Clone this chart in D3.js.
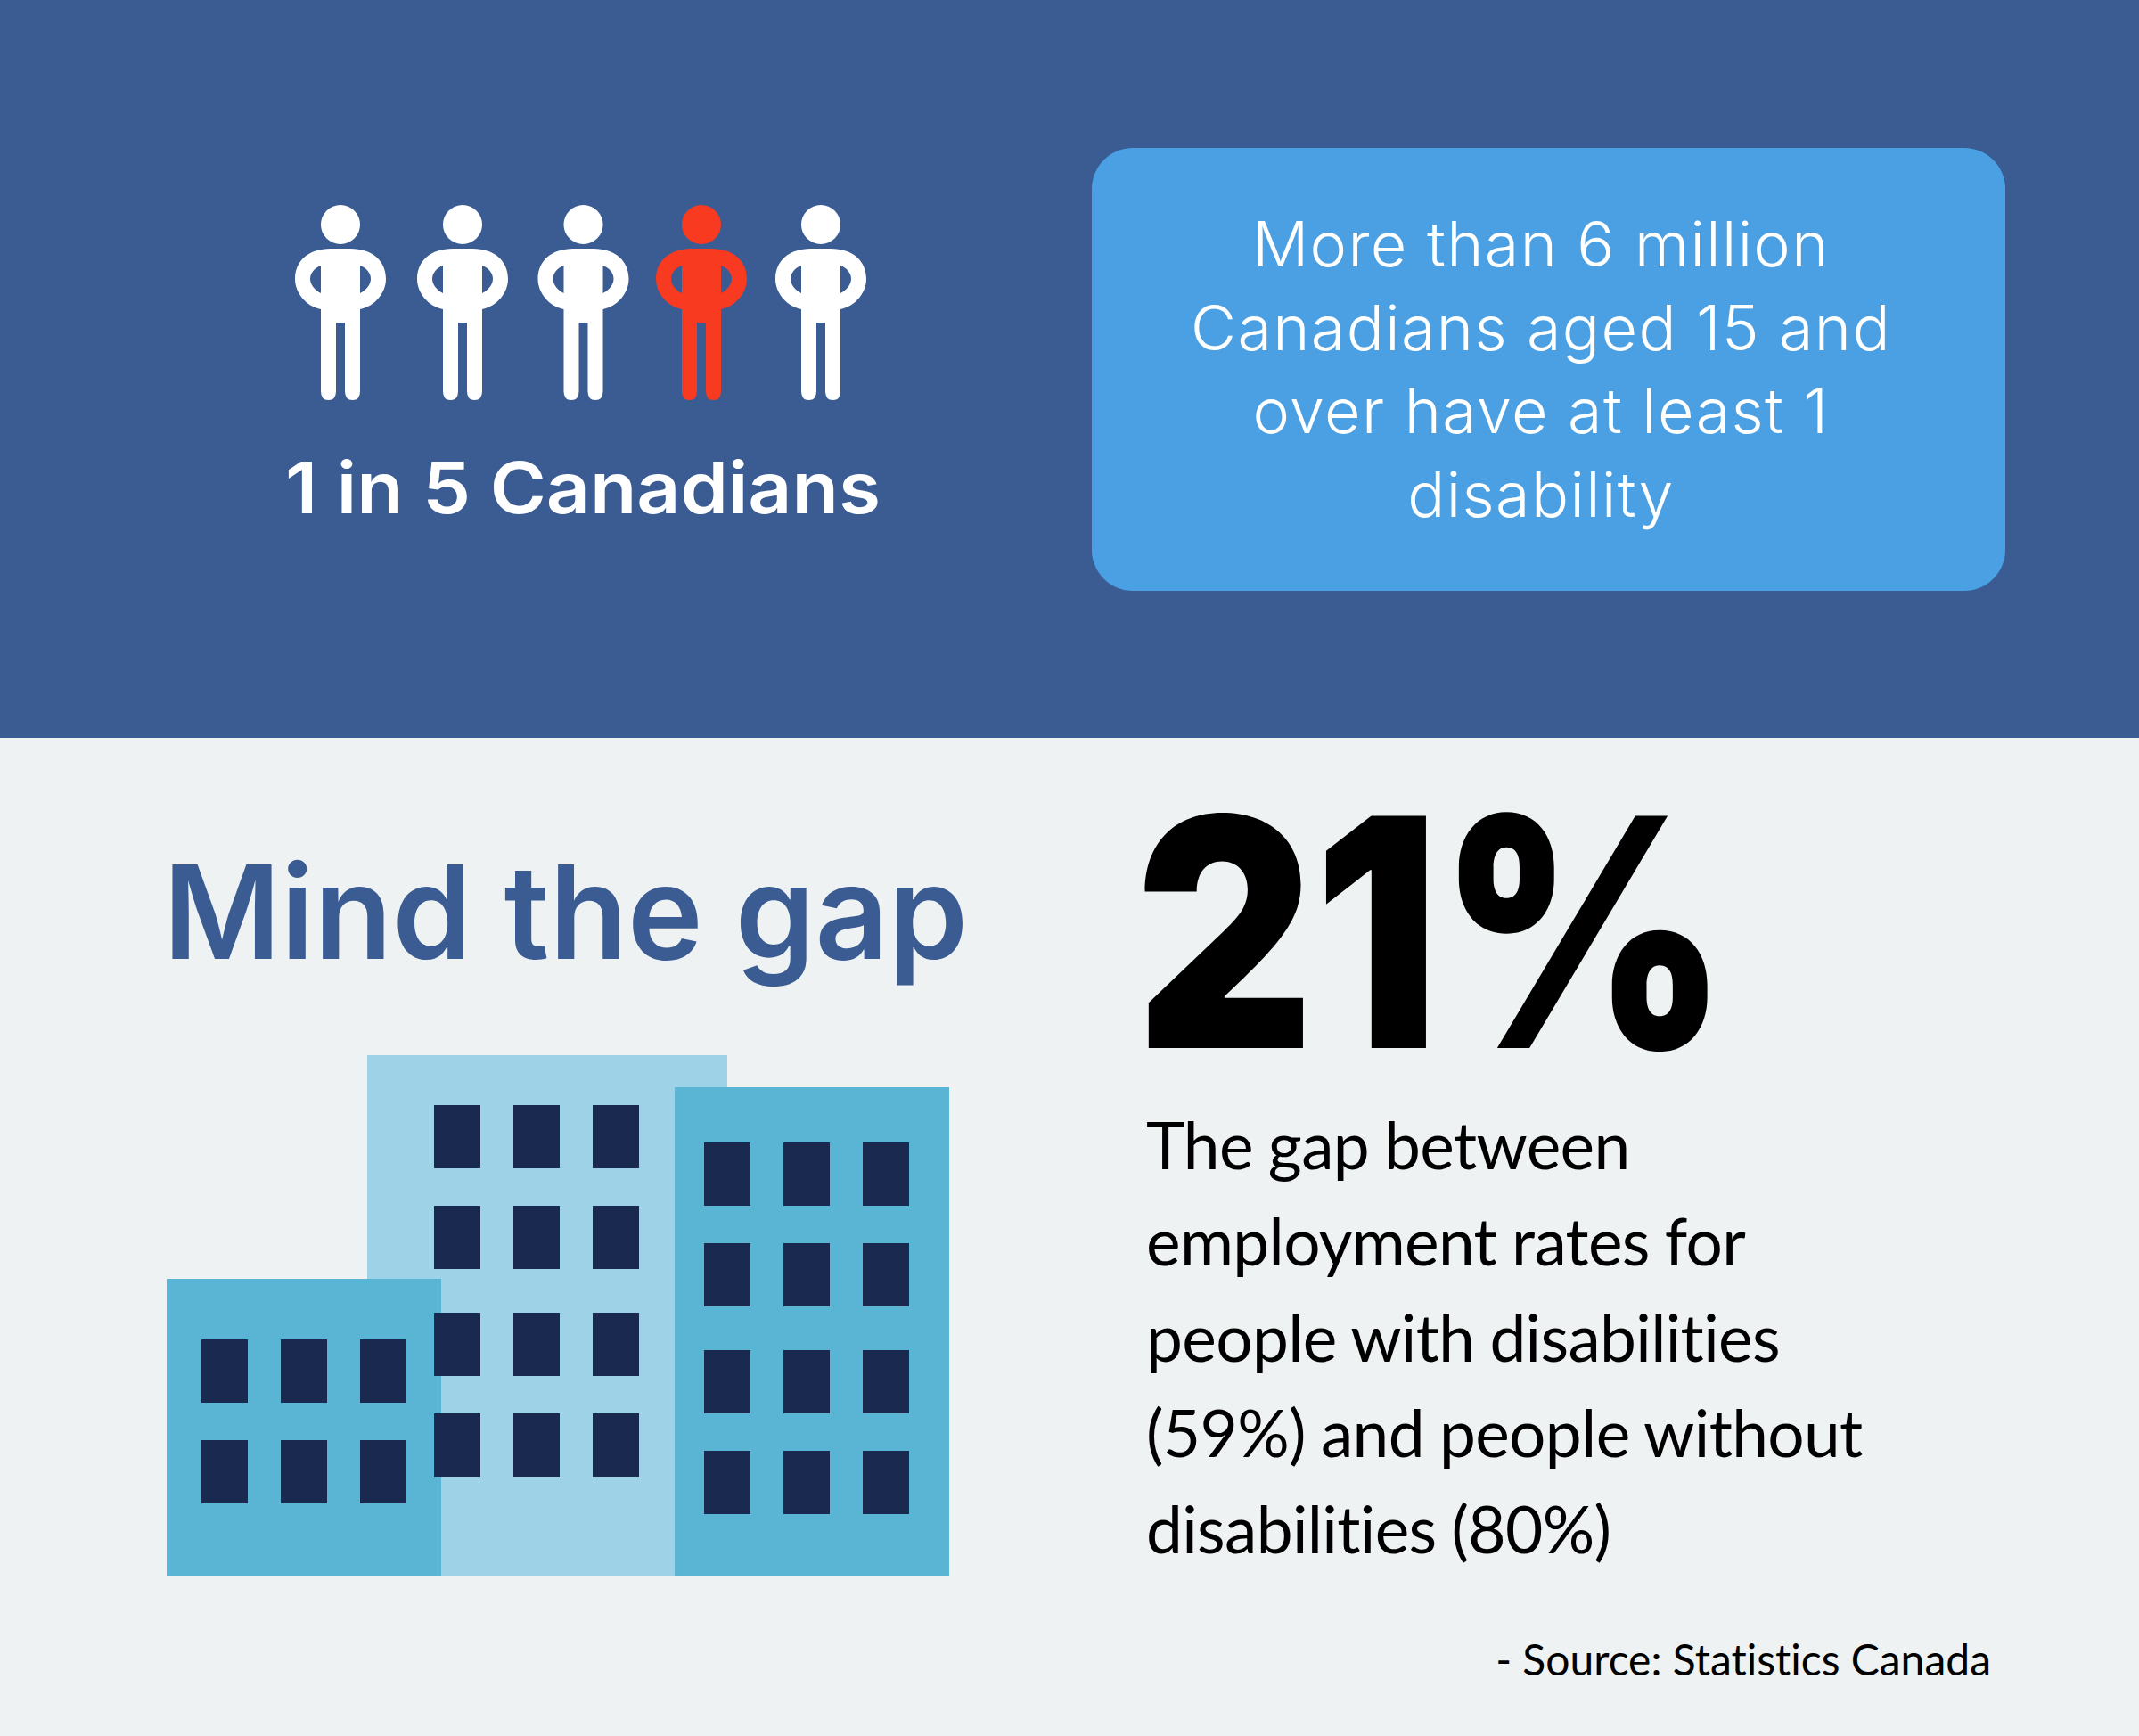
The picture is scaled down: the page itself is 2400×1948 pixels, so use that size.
<!DOCTYPE html>
<html>
<head>
<meta charset="utf-8">
<script src="https://cdn.jsdelivr.net/npm/d3@7"></script>
<style>
  html, body { margin: 0; padding: 0; background: #eef2f3; }
  svg { display: block; }
</style>
</head>
<body>
<div id="chart"></div>
<script>
// values
const people = ["other", "other", "other", "disabled", "other"];
const peopleLabel = "1 in 5 Canadians";
const boxLines = ["More than 6 million", "Canadians aged 15 and", "over have at least 1", "disability"];
const gapTitle = "Mind the gap";
const gapValue = "21%";
const gapLines = ["The gap between", "employment rates for", "people with disabilities", "(59%) and people without", "disabilities (80%)"];
const sourceText = "- Source: Statistics Canada";

const buildingNames = ["middle", "left", "right"];
const buildingFloors = {middle: [0, 1, 2, 3], left: [0, 1], right: [0, 1, 2, 3]};
const windowColumns = [0, 1, 2];

const width = 2400, height = 1948;
const svg = d3.select("#chart").append("svg")
    .attr("width", width)
    .attr("height", height)
    .attr("viewBox", `0 0 ${width} ${height}`);

// background
svg.append("rect").attr("width", width).attr("height", height).attr("fill", "#eef2f3");
svg.append("rect").attr("width", width).attr("height", 828).attr("fill", "#3a5c92");

// people
const personX = d3.scaleLinear().domain(d3.range(people.length)).range([382, 519, 654.5, 787, 921]);
const personColor = d3.scaleOrdinal().domain(["other", "disabled"]).range(["#ffffff", "#f73a20"]);

// body shape, origin at middle of the shoulders
const bodyPath = "M-11,0 L11,0 C36,0 51,14 51,34 C51,50 38,65 22,68 L22,160 Q22,170 13.5,170 Q5,170 5,160 L5,83 L-5,83 L-5,160 "
    + "Q-5,170 -13.5,170 Q-22,170 -22,160 L-22,68 C-38,65 -51,50 -51,34 C-51,14 -36,0 -11,0 Z "
    + "M22,19 C30,22 34,28 34,34 C34,41 28,47 22,50 Z M-22,19 C-30,22 -34,28 -34,34 C-34,41 -28,47 -22,50 Z";

const person = svg.selectAll("g.person")
    .data(people)
    .enter()
    .append("g")
    .attr("class", "person")
    .attr("transform", (d, i) => `translate(${personX(i)},279)`)
    .attr("fill", d => personColor(d));
person.append("circle").attr("cy", -27).attr("r", 22);
person.append("path").attr("d", bodyPath).attr("fill-rule", "evenodd");

svg.append("text")
    .attr("x", 654).attr("y", 576)
    .attr("text-anchor", "middle")
    .attr("font-family", "Inter")
    .attr("font-weight", 600)
    .attr("font-size", 80)
    .attr("fill", "#ffffff")
    .attr("textLength", 668)
    .attr("lengthAdjust", "spacingAndGlyphs")
    .text(peopleLabel);

// blue box
svg.append("rect")
    .attr("x", 1225).attr("y", 166)
    .attr("width", 1025).attr("height", 497)
    .attr("rx", 46)
    .attr("fill", "#4ba0e3");

const boxY = d3.scaleLinear().domain([0, boxLines.length - 1]).range([299, 580]);
svg.selectAll("text.box")
    .data(boxLines)
    .enter()
    .append("text")
    .attr("class", "box")
    .attr("x", 1729)
    .attr("y", (d, i) => boxY(i))
    .attr("text-anchor", "middle")
    .attr("font-family", "Inter")
    .attr("font-weight", 300)
    .attr("font-size", 70)
    .attr("letter-spacing", 1.4)
    .attr("fill", "#ffffff")
    .text(d => d);

// title
svg.append("text")
    .attr("x", 183).attr("y", 1076)
    .attr("font-family", "Inter")
    .attr("font-weight", 600)
    .attr("font-size", 146)
    .attr("fill", "#3a5c92")
    .attr("textLength", 903)
    .attr("lengthAdjust", "spacingAndGlyphs")
    .text(gapTitle);

// buildings
const buildingColor = d3.scaleOrdinal().domain(buildingNames).range(["#9ed2e6", "#5ab4d3", "#5ab4d3"]);
const buildingLeft = d3.scaleOrdinal().domain(buildingNames).range([412, 187, 757]);
const buildingRight = d3.scaleOrdinal().domain(buildingNames).range([816, 495, 1065]);
const buildingTop = d3.scaleOrdinal().domain(buildingNames).range([1184, 1435, 1220]);
const groundY = 1768;

svg.selectAll("rect.building")
    .data(buildingNames)
    .enter()
    .append("rect")
    .attr("class", "building")
    .attr("x", d => buildingLeft(d))
    .attr("y", d => buildingTop(d))
    .attr("width", d => buildingRight(d) - buildingLeft(d))
    .attr("height", d => groundY - buildingTop(d))
    .attr("fill", d => buildingColor(d));

// windows go on top of all the buildings
const columnX = {
    middle: d3.scalePoint().domain(windowColumns).range([487, 665]),
    left: d3.scalePoint().domain(windowColumns).range([226, 404]),
    right: d3.scalePoint().domain(windowColumns).range([790, 968])
};
const floorY = {
    middle: d3.scaleLinear().domain(buildingFloors.middle).range([1240, 1353, 1473, 1586]),
    left: d3.scaleLinear().domain(buildingFloors.left).range([1503, 1616]),
    right: d3.scaleLinear().domain(buildingFloors.right).range([1282, 1395, 1515, 1628])
};
buildingNames.forEach(name => {
    const cells = d3.cross(buildingFloors[name], windowColumns);
    svg.selectAll(`rect.window-${name}`)
        .data(cells)
        .enter()
        .append("rect")
        .attr("class", `window-${name}`)
        .attr("x", d => columnX[name](d[1]))
        .attr("y", d => floorY[name](d[0]))
        .attr("width", 52)
        .attr("height", 71)
        .attr("fill", "#19294f");
});

// big number
svg.append("text")
    .attr("x", 1274).attr("y", 1176)
    .attr("font-family", "Inter")
    .attr("font-weight", 900)
    .attr("font-size", 358)
    .attr("fill", "#000000")
    .attr("textLength", 664)
    .attr("lengthAdjust", "spacingAndGlyphs")
    .text(gapValue);

const gapY = d3.scaleLinear().domain([0, gapLines.length - 1]).range([1312, 1743]);
svg.selectAll("text.gap")
    .data(gapLines)
    .enter()
    .append("text")
    .attr("class", "gap")
    .attr("x", 1286)
    .attr("y", (d, i) => gapY(i))
    .attr("font-family", "Lato")
    .attr("font-size", 73)
    .attr("letter-spacing", -0.65)
    .attr("word-spacing", -1)
    .style("font-variant-ligatures", "none")
    .attr("fill", "#000000")
    .text(d => d);

svg.append("text")
    .attr("x", 2234).attr("y", 1880)
    .attr("text-anchor", "end")
    .attr("font-family", "Lato")
    .attr("font-size", 48)
    .style("font-variant-ligatures", "none")
    .attr("fill", "#000000")
    .text(sourceText);
</script>
</body>
</html>
